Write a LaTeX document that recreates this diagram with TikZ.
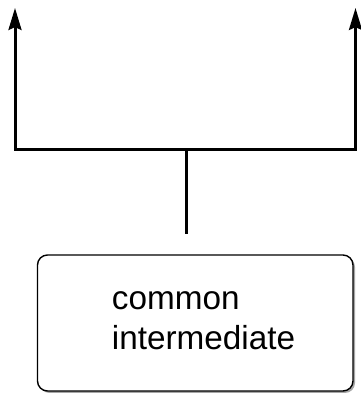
\documentclass[tikz,border=0pt]{standalone}
\usepackage{fontspec}
\setmainfont{Liberation Sans}
\usetikzlibrary{arrows.meta,shadows}
\begin{document}
\begin{tikzpicture}[x=1pt,y=1pt,
  conn/.style={line width=3pt},
  arr/.style={conn,-{Stealth[length=22pt,width=13pt,inset=3pt]}},
  boxnode/.style={draw,line width=1.4pt,rounded corners=10pt,fill=white,
    minimum width=315.5pt,minimum height=136pt,inner sep=0pt,
    drop shadow={shadow xshift=2pt,shadow yshift=-2pt,fill=gray!70,opacity=1}},
  lbl/.style={font=\fontsize{33.3}{40}\selectfont,align=left,inner sep=0pt}
]
\useasboundingbox (0,0) rectangle (360,394);
\node[boxnode] (ci) at (195.25,71) {};
\node[lbl,anchor=base west] (citext) at (111.7,44) {common\\intermediate};
\coordinate (J) at (186,244);
\coordinate (S) at (186,160);
\coordinate (L) at (15,244);
\coordinate (R) at (355.5,244);
\coordinate (LT) at (15,386);
\coordinate (RT) at (355.5,386);
\draw[conn] (S) -- (J);
\draw[conn,line cap=rect] (L) -- (R);
\draw[arr] (L) -- (LT);
\draw[arr] (R) -- (RT);
\end{tikzpicture}
\end{document}
